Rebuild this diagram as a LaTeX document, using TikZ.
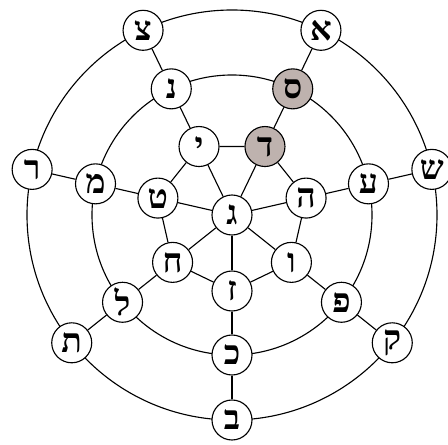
\documentclass[tikz,border=0pt]{standalone}
\usepackage{fontspec}
\newfontfamily\hebfont[Script=Hebrew]{Liberation Serif}
\definecolor{shade}{RGB}{190,178,174}
\tikzset{
  letter/.style={circle, draw, thick, minimum size=1cm, inner sep=0pt,
    font=\hebfont\bfseries\fontsize{24}{24}\selectfont},
  ring/.style={thick},
}

\begin{document}
\begin{tikzpicture}
  \useasboundingbox (-5.8,-5.75) rectangle (5.4,5.375);
  \node[letter, fill=white] (hub) at (0,0) {ג};
  \draw[ring] (hub.center) circle (3.5);
  \draw[ring] (hub.center) circle (5.125);
  \foreach \k/\i/\m/\o/\f in {0/ז/כ/ב/white, 1/ו/פ/ק/white, 2/ה/ע/ש/white,
      3/ד/ס/א/shade, 4/י/נ/צ/white, 5/ט/מ/ר/white, 6/ח/ל/ת/white} {
      \pgfmathsetmacro\ang{270+360/7*\k}
      \node[letter, fill=\f] (i\k) at (\ang:1.9) {\i};
      \node[letter, fill=\f] (m\k) at (\ang:3.5) {\m};
      \node[letter, fill=white] (o\k) at (\ang:5.125) {\o};
    }
  \foreach \k in {0,...,6} {
      \pgfmathtruncatemacro\n{mod(\k+1,7)}
      \draw[ring] (hub) -- (i\k) -- (m\k) -- (o\k);
      \draw[ring] (i\k) -- (i\n);
    }
\end{tikzpicture}
\end{document}
